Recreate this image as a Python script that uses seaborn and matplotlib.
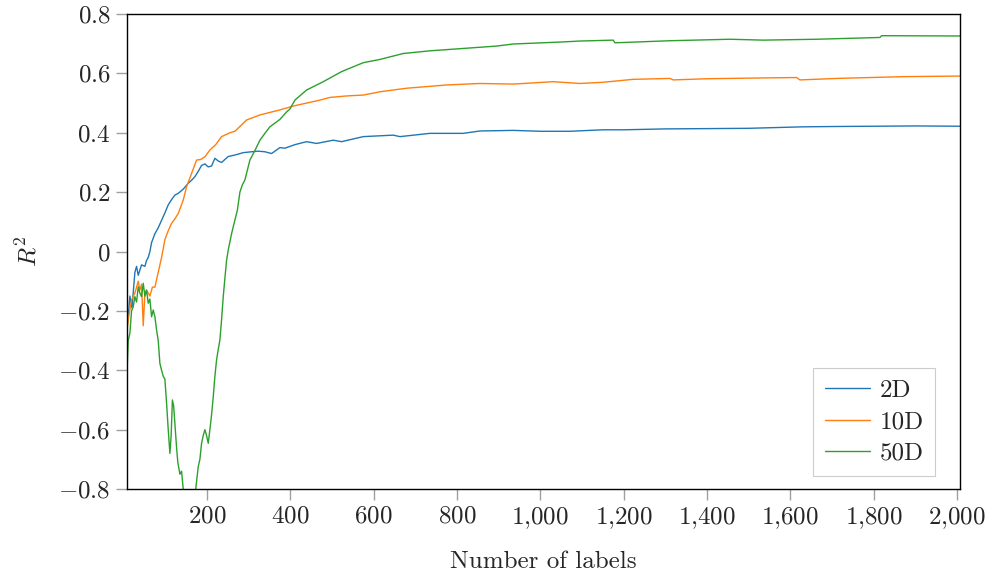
import numpy as np
import pandas as pd
import matplotlib
matplotlib.use("Agg")
import matplotlib.pyplot as plt
import seaborn as sns
from matplotlib.ticker import FuncFormatter

# R^2 vs number of labels
x_2d = [8, 12, 15, 20, 27, 31, 35, 43, 51, 55, 59, 63, 67, 75, 83, 91, 99, 107, 115,
        123, 131, 143, 155, 163, 171, 179, 187, 195, 203, 211, 219, 227, 235, 251, 267,
        287, 307, 323, 339, 355, 375, 387, 411, 439, 463, 503, 523, 575, 647, 663, 735,
        815, 855, 935, 1000, 1071, 1150, 1200, 1300, 1400, 1500, 1630, 1700, 1800, 1900, 2007]
r2_2d = [-0.26, -0.2, -0.15, -0.19, -0.07, -0.05, -0.08, -0.045, -0.05, -0.03, -0.02, 0.0,
         0.03, 0.06, 0.08, 0.105, 0.13, 0.157, 0.175, 0.19, 0.196, 0.21, 0.23, 0.24, 0.252,
         0.27, 0.29, 0.295, 0.285, 0.288, 0.314, 0.305, 0.30, 0.32, 0.325, 0.333, 0.336,
         0.338, 0.336, 0.33, 0.35, 0.348, 0.36, 0.37, 0.364, 0.375, 0.37, 0.387, 0.392,
         0.387, 0.398, 0.398, 0.406, 0.408, 0.405, 0.405, 0.41, 0.41, 0.413, 0.414, 0.415,
         0.42, 0.421, 0.422, 0.423, 0.422]

x_10d = [8, 12, 19, 27, 35, 39, 43, 47, 51, 55, 63, 69, 75, 83, 91, 99, 107, 115, 123,
         131, 143, 151, 163, 175, 185, 195, 207, 221, 235, 255, 267, 295, 327, 375, 407,
         471, 495, 535, 575, 615, 679, 775, 855, 935, 1031, 1095, 1150, 1223, 1311, 1319,
         1400, 1551, 1615, 1623, 1711, 1871, 2007]
r2_10d = [-0.265, -0.22, -0.163, -0.14, -0.10, -0.13, -0.11, -0.25, -0.14, -0.13, -0.15,
          -0.12, -0.12, -0.07, -0.02, 0.04, 0.07, 0.095, 0.11, 0.128, 0.173, 0.218, 0.263,
          0.308, 0.31, 0.319, 0.342, 0.36, 0.387, 0.40, 0.405, 0.443, 0.46, 0.477, 0.49,
          0.51, 0.519, 0.524, 0.527, 0.538, 0.55, 0.561, 0.566, 0.564, 0.572, 0.566, 0.57,
          0.58, 0.583, 0.578, 0.582, 0.585, 0.586, 0.578, 0.583, 0.589, 0.591]

x_50d = [8, 11, 15, 19, 23, 27, 31, 35, 39, 43, 47, 51, 55, 59, 63, 67, 71, 75, 79, 83,
         87, 91, 95, 99, 103, 107, 111, 114, 117, 120, 123, 127, 130, 135, 139, 143, 150,
         158, 166, 173, 179, 183, 187, 191, 195, 199, 203, 207, 211, 215, 219, 223, 227,
         231, 235, 239, 243, 247, 251, 259, 267, 273, 279, 285, 291, 303, 315, 327, 339,
         351, 375, 391, 399, 411, 439, 479, 523, 575, 615, 671, 735, 815, 895, 935, 1055,
         1095, 1175, 1179, 1311, 1455, 1535, 1663, 1815, 1819, 2007]
r2_50d = [-0.41, -0.3, -0.275, -0.2, -0.186, -0.152, -0.17, -0.119, -0.14, -0.152, -0.107,
          -0.15, -0.13, -0.174, -0.16, -0.22, -0.197, -0.22, -0.264, -0.3, -0.377, -0.4,
          -0.42, -0.43, -0.51, -0.6, -0.68, -0.62, -0.50, -0.52, -0.58, -0.66, -0.71, -0.75,
          -0.74, -0.80, -0.85, -0.88, -0.85, -0.80, -0.725, -0.70, -0.646, -0.62, -0.60,
          -0.62, -0.646, -0.60, -0.55, -0.49, -0.42, -0.365, -0.33, -0.298, -0.23, -0.152,
          -0.09, -0.03, 0.005, 0.06, 0.106, 0.14, 0.2, 0.225, 0.241, 0.308, 0.34, 0.375,
          0.398, 0.42, 0.445, 0.47, 0.48, 0.51, 0.544, 0.572, 0.606, 0.636, 0.647, 0.667,
          0.676, 0.684, 0.692, 0.699, 0.706, 0.709, 0.712, 0.703, 0.71, 0.715, 0.712, 0.715,
          0.721, 0.727, 0.726]

dims = ["2D", "10D", "50D"]
colors = ["#1f77b4", "#ff7f0e", "#2ca02c"]

df = pd.concat([
    pd.DataFrame({"n": x_2d, "r2": r2_2d, "dim": "2D"}),
    pd.DataFrame({"n": x_10d, "r2": r2_10d, "dim": "10D"}),
    pd.DataFrame({"n": x_50d, "r2": r2_50d, "dim": "50D"}),
])

sns.set_style("white")
plt.rcParams["font.family"] = "serif"
plt.rcParams["font.serif"] = ["cmr10"]
plt.rcParams["mathtext.fontset"] = "cm"
plt.rcParams["axes.formatter.use_mathtext"] = True

fig = plt.figure(figsize=(9.92, 5.79), dpi=100)
ax = fig.add_axes([0.128, 0.1554, 0.8397, 0.8204])

sns.lineplot(data=df, x="n", y="r2", hue="dim", hue_order=dims, palette=colors,
             estimator=None, sort=True, linewidth=1.0, ax=ax)

ax.set_xlim(8, 2007)
ax.set_ylim(-0.8, 0.8)
ax.set_xticks(np.arange(200, 2001, 200))
ax.set_yticks(np.arange(-0.8, 0.81, 0.2))


def fmt_x(v, pos):
    s = f"{int(round(v)):,}".replace(",", "{,}")
    return f"${s}$"


def fmt_y(v, pos):
    if abs(v) < 1e-9:
        return "$0$"
    return f"${v:.1f}$"


ax.xaxis.set_major_formatter(FuncFormatter(fmt_x))
ax.yaxis.set_major_formatter(FuncFormatter(fmt_y))
ax.tick_params(axis="both", which="major", direction="out", length=8, width=1,
               color="#a0a0a0", labelsize=18, pad=4)
ax.tick_params(top=False, right=False, bottom=True, left=True)
for sp in ax.spines.values():
    sp.set_color("black")
    sp.set_linewidth(1)

ax.set_xlabel("Number of labels", fontsize=18, labelpad=14)
ax.set_ylabel("$R^2$", fontsize=18, labelpad=12)

leg = ax.legend(loc="lower right", bbox_to_anchor=(0.970, 0.027), borderaxespad=0,
                fontsize=18, frameon=True, fancybox=False, framealpha=1,
                edgecolor="#cccccc", handlelength=1.8, handletextpad=0.4,
                labelspacing=0.36, borderpad=0.45)
for line in leg.get_lines():
    line.set_linewidth(1.0)
leg.get_frame().set_linewidth(0.8)

fig.savefig("out.png", dpi=100)
